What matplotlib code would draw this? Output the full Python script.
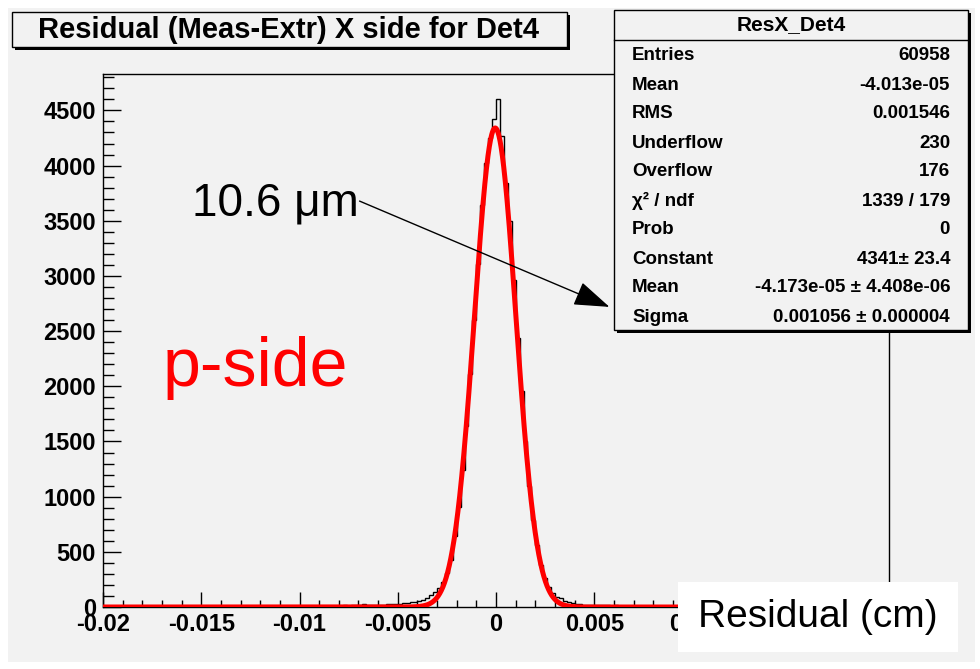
import numpy as np
import matplotlib
matplotlib.use("Agg")
import matplotlib.pyplot as plt
from matplotlib.patches import Rectangle, FancyArrowPatch
from matplotlib.ticker import MultipleLocator

plt.rcParams["font.family"] = ["Liberation Sans", "DejaVu Sans"]

# histogram: 200 bins from -0.02 to 0.02 (bin width 0.0002)
X_MIN, X_MAX, N_BINS = -0.02, 0.02, 200
LEFT_TAIL = [3, 2, 4, 3, 2, 3, 4, 2, 3, 5, 3, 4, 2, 3, 4, 5, 3, 4, 3, 5,
             4, 3, 5, 4, 6, 4, 5, 3, 6, 5, 4, 6, 5, 7, 5, 6, 4, 7, 6, 5,
             7, 6, 8, 6, 7, 9, 7, 8, 6, 9, 8, 10, 9, 8, 11, 10, 9, 12, 11, 13,
             12, 14, 13, 15, 16, 14, 25, 17, 18, 20, 21, 22, 24, 25, 27]
CORE = [30, 32, 36, 41, 48, 58, 66, 84, 105, 132,
        170, 228, 305, 430, 640, 905, 1240, 1640, 2110, 2600,
        3110, 3640, 4020, 4250, 4420, 4600, 4270, 3840, 3500, 2960,
        2440, 1960, 1500, 1100, 790, 560, 380, 262, 178, 125,
        92, 78, 58, 45, 36, 30, 24, 22, 20, 18]
RIGHT_TAIL = [17, 16, 15, 14, 13, 14, 12, 11, 12, 10, 11, 9, 10, 8, 9, 8, 7, 8, 6, 7,
              6, 7, 5, 6, 5, 6, 4, 5, 6, 4, 5, 3, 4, 5, 3, 4, 3, 5, 4, 3,
              4, 2, 3, 4, 3, 2, 3, 4, 2, 3, 3, 2, 4, 3, 2, 3, 2, 3, 4, 2,
              3, 2, 3, 2, 1, 3, 2, 3, 2, 1, 2, 3, 2, 1, 2]
COUNTS = LEFT_TAIL + CORE + RIGHT_TAIL

# gaussian fit parameters (from the stats box)
FIT_CONSTANT = 4341.0
FIT_MEAN = -4.173e-05
FIT_SIGMA = 0.001056

STAT_NAMES = ["Entries", "Mean", "RMS", "Underflow", "Overflow",
              "χ² / ndf", "Prob", "Constant", "Mean", "Sigma"]
STAT_VALUES = ["60958", "-4.013e-05", "0.001546", "230", "176",
               "1339 / 179", "0", "4341± 23.4",
               "-4.173e-05 ± 4.408e-06", "0.001056 ± 0.000004"]

W, H = 980, 669
BG = "#f2f2f2"


def fx(x):
    return x / W


def fy(y):
    return 1 - y / H


def box(fig, x0, y0, x1, y1, face, shadow=True, edge="black", z=2):
    if shadow:
        fig.patches.append(Rectangle((fx(x0 + 3), fy(y1 + 3)), fx(x1 - x0), (y1 - y0) / H,
                                     transform=fig.transFigure, facecolor="black",
                                     edgecolor="none", zorder=z))
    fig.patches.append(Rectangle((fx(x0), fy(y1)), fx(x1 - x0), (y1 - y0) / H,
                                 transform=fig.transFigure, facecolor=face,
                                 edgecolor=edge, lw=1, zorder=z + 0.1))


def main():
    fig = plt.figure(figsize=(W / 100, H / 100), dpi=100, facecolor="white")
    fig.patches.append(Rectangle((fx(8), fy(662)), fx(975 - 8), (662 - 8) / H,
                                 transform=fig.transFigure, facecolor=BG,
                                 edgecolor="none", zorder=-5))

    ax = fig.add_axes([fx(103), fy(607), fx(889 - 103), (607 - 74) / H])
    ax.set_facecolor(BG)

    edges = np.linspace(X_MIN, X_MAX, N_BINS + 1)
    ax.stairs(COUNTS, edges, color="black", lw=1, zorder=2)

    xs = np.linspace(X_MIN, X_MAX, 3000)
    ys = FIT_CONSTANT * np.exp(-0.5 * ((xs - FIT_MEAN) / FIT_SIGMA) ** 2)
    ax.plot(xs, ys, color="#ff0000", lw=3.6, zorder=3, solid_joinstyle="round")

    ax.set_xlim(X_MIN, X_MAX)
    ax.set_ylim(0, 4830)
    ax.xaxis.set_major_locator(MultipleLocator(0.005))
    ax.xaxis.set_minor_locator(MultipleLocator(0.001))
    ax.yaxis.set_major_locator(MultipleLocator(500))
    ax.yaxis.set_minor_locator(MultipleLocator(100))
    ax.set_xticks([-0.02, -0.015, -0.01, -0.005, 0, 0.005, 0.01, 0.015, 0.02])
    ax.set_xticklabels(["-0.02", "-0.015", "-0.01", "-0.005", "0",
                        "0.005", "0.01", "0.015", "0.02"])
    ax.tick_params(axis="y", which="major", direction="in", length=13, width=1,
                   labelsize=17, pad=5)
    ax.tick_params(axis="y", which="minor", direction="in", length=8, width=1)
    ax.tick_params(axis="x", which="major", direction="in", length=11, width=1,
                   labelsize=17, pad=4)
    ax.tick_params(axis="x", which="minor", direction="in", length=5, width=1)
    for lab in ax.get_xticklabels() + ax.get_yticklabels():
        lab.set_fontweight("bold")
    for sp in ax.spines.values():
        sp.set_linewidth(1)

    # title box
    box(fig, 12, 12, 567, 47, BG)
    fig.text(fx(289), fy(30), "Residual (Meas-Extr) X side for Det4",
             ha="center", va="center", fontsize=21, fontweight="bold", zorder=5)

    # stats box
    box(fig, 614, 10, 968, 330, BG)
    fig.add_artist(plt.Line2D([fx(614), fx(968)], [fy(40), fy(40)],
                              transform=fig.transFigure, color="black", lw=1, zorder=4))
    fig.text(fx(791), fy(25), "ResX_Det4", ha="center", va="center",
             fontsize=15, fontweight="bold", zorder=5)
    for k, (name, val) in enumerate(zip(STAT_NAMES, STAT_VALUES)):
        y = fy(56 + 29 * k)
        fig.text(fx(632), y, name, ha="left", va="center", fontsize=13.5,
                 fontweight="bold", zorder=5)
        fig.text(fx(950), y, val, ha="right", va="center", fontsize=13.5,
                 fontweight="bold", zorder=5)

    # annotations
    fig.text(fx(192), fy(204), "10.6 μm", ha="left", va="center",
             fontsize=33, zorder=5)
    fig.text(fx(163), fy(368), "p-side", ha="left", va="center", fontsize=49,
             color="#ff0000", zorder=5)
    arrow = FancyArrowPatch((fx(357), fy(200)), (fx(612), fy(308)),
                            transform=fig.transFigure,
                            arrowstyle="-|>,head_length=1.6,head_width=0.55",
                            mutation_scale=14, color="black", lw=1, zorder=6)
    fig.add_artist(arrow)

    # axis label box
    box(fig, 678, 582, 958, 652, "white", shadow=False, edge="none", z=6)
    fig.text(fx(818), fy(617), "Residual (cm)", ha="center", va="center",
             fontsize=28, zorder=8)

    fig.savefig("out.png", dpi=100, facecolor=fig.get_facecolor())
    plt.close(fig)


if __name__ == "__main__":
    main()
